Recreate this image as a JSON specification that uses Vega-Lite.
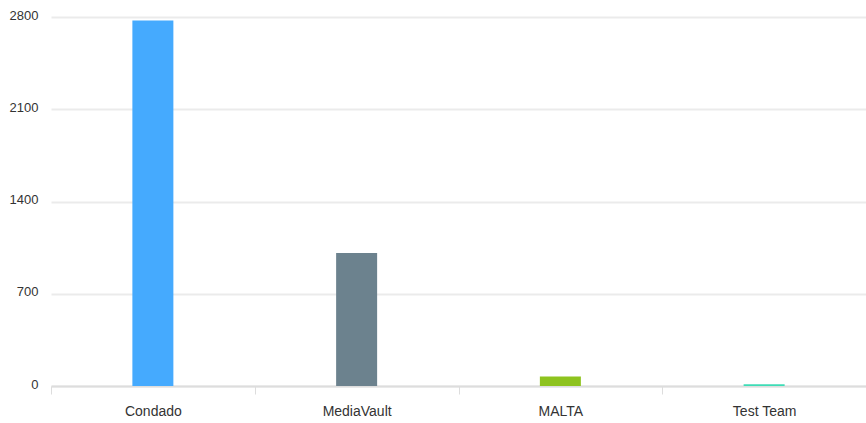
{
  "$schema": "https://vega.github.io/schema/vega-lite/v6.json",
  "autosize": "none",
  "padding": {"left": 51, "top": 17, "right": 0, "bottom": 37},
  "width": 815,
  "height": 369,
  "background": "white",
  "data": {
    "values": [
      {"team": "Condado", "count": 2773},
      {"team": "MediaVault", "count": 1009},
      {"team": "MALTA", "count": 72},
      {"team": "Test Team", "count": 14}
    ]
  },
  "config": {"view": {"stroke": null}, "font": "Liberation Sans"},
  "mark": {"type": "bar", "size": 41},
  "encoding": {
    "x": {
      "field": "team",
      "type": "nominal",
      "sort": null,
      "scale": {"paddingInner": 0, "paddingOuter": 0},
      "axis": {
        "title": null,
        "labelAngle": 0,
        "labelFontSize": 14,
        "labelColor": "#333333",
        "labelPadding": 10,
        "domainColor": "#dddddd",
        "domainWidth": 2,
        "tickColor": "#dddddd",
        "tickSize": 8,
        "tickBand": "extent",
        "grid": false
      }
    },
    "y": {
      "field": "count",
      "type": "quantitative",
      "scale": {"domain": [0, 2800], "nice": false},
      "axis": {
        "title": null,
        "values": [0, 700, 1400, 2100, 2800],
        "format": "d",
        "labelFontSize": 13,
        "labelColor": "#333333",
        "labelPadding": 13,
        "labelBaseline": "bottom",
        "labelOffset": 5,
        "ticks": false,
        "domain": false,
        "gridColor": "#ebebeb",
        "gridWidth": 2
      }
    },
    "color": {
      "field": "team",
      "type": "nominal",
      "scale": {
        "domain": ["Condado", "MediaVault", "MALTA", "Test Team"],
        "range": ["#45aafe", "#6c828e", "#8ec31f", "#3edcb6"]
      },
      "legend": null
    }
  }
}
